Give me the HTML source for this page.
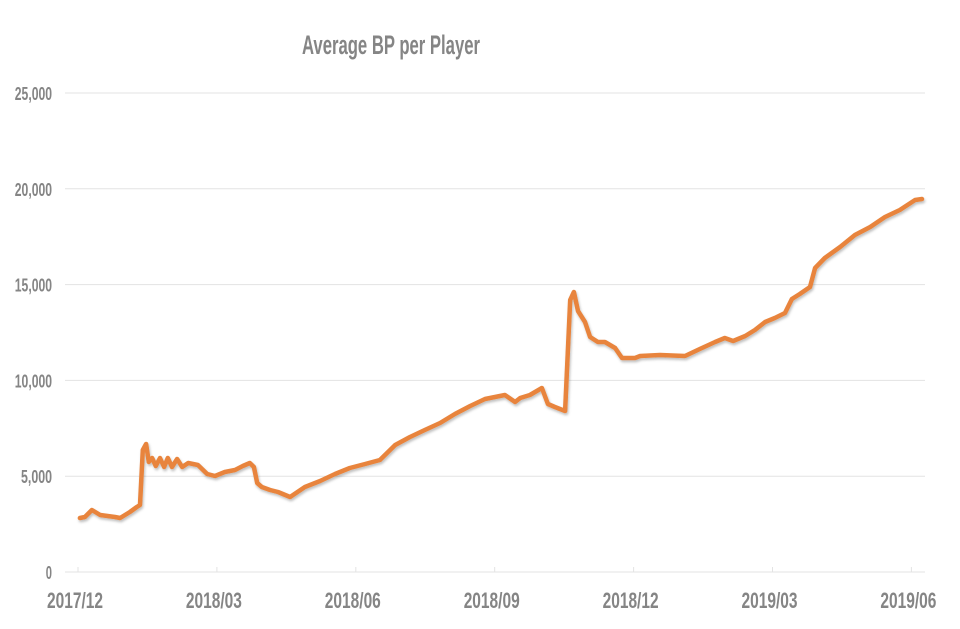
<!DOCTYPE html>
<html><head><meta charset="utf-8"><style>
body{margin:0;background:#fff;}
svg text{font-family:"Liberation Sans Narrow","Liberation Sans",sans-serif;fill:#858585;font-weight:bold;}
</style></head><body>
<svg width="960" height="624" viewBox="0 0 960 624">
<defs><filter id="sh" x="-5%" y="-5%" width="110%" height="110%"><feDropShadow dx="1" dy="2" stdDeviation="1.2" flood-color="#000" flood-opacity="0.25"/></filter></defs>
<text x="391" y="54" text-anchor="middle" font-size="27" textLength="178" lengthAdjust="spacingAndGlyphs">Average BP per Player</text>
<g id="grid"></g><g id="yl"></g><g id="xl"></g><g id="ln"></g>
</svg>
<script>
const yTicks=[0,5000,10000,15000,20000,25000];
const yTickLabels=["0","5,000","10,000","15,000","20,000","25,000"];
const xTickMonths=[0,3,6,9,12,15,18];
const xTickLabels=["2017/12","2018/03","2018/06","2018/09","2018/12","2019/03","2019/06"];
const months=[0.04,0.15,0.30,0.48,0.80,0.91,1.12,1.27,1.34,1.40,1.47,1.53,1.60,1.68,1.77,1.86,1.94,2.03,2.14,2.25,2.38,2.59,2.79,2.96,3.17,3.39,3.56,3.71,3.80,3.87,3.97,4.15,4.32,4.58,4.90,5.23,5.55,5.87,6.20,6.52,6.85,7.17,7.49,7.82,8.14,8.47,8.79,9.22,9.44,9.55,9.76,10.02,10.15,10.30,10.52,10.63,10.71,10.80,10.95,11.06,11.23,11.38,11.60,11.75,12.03,12.14,12.57,13.11,13.43,13.76,13.97,14.15,14.41,14.62,14.84,15.05,15.27,15.42,15.59,15.81,15.92,16.13,16.46,16.78,17.11,17.43,17.75,18.08,18.23];
const bpValues=[2818,2870,3236,2975,2870,2818,3131,3392,3497,6367,6680,5741,5950,5532,5950,5480,5950,5480,5897,5480,5689,5584,5115,5010,5219,5323,5532,5689,5480,4645,4436,4280,4175,3914,4436,4749,5115,5428,5637,5845,6628,7046,7411,7776,8246,8664,9029,9238,8872,9081,9238,9603,8768,8611,8403,14196,14613,13622,13048,12265,12004,12004,11691,11169,11169,11273,11325,11273,11638,12004,12212,12056,12317,12630,13048,13256,13517,14248,14509,14874,15866,16388,16962,17588,18006,18527,18893,19415,19467];
const X=m=>78+m*46.3, Y=v=>572-v/5000*95.8;
const NS="http://www.w3.org/2000/svg";
function mk(t,a,p){const e=document.createElementNS(NS,t);for(const k in a)e.setAttribute(k,a[k]);p.appendChild(e);return e;}
const g=document.getElementById('grid'),yl=document.getElementById('yl'),xl=document.getElementById('xl'),ln=document.getElementById('ln');
yTicks.forEach((v,i)=>{
 const l=mk('line',{x1:65,x2:925,y1:Y(v),y2:Y(v),stroke:'#e3e3e3','stroke-width':1},g);
 
 
 const s=yTickLabels[i];
 const t=mk('text',{x:52,y:Y(v)+7,'text-anchor':'end','font-size':18,textLength:(s.length*6.2).toFixed(1),lengthAdjust:'spacingAndGlyphs'},yl);
 t.textContent=s;
 
 
});
xTickMonths.forEach((m,i)=>{
 const tk=mk('line',{x1:X(m),x2:X(m),y1:Y(0),y2:Y(0)-5,stroke:'#e3e3e3'},g);
 
 
 const t=mk('text',{x:X(m)-3,y:608,'text-anchor':'middle','font-size':22,textLength:56,lengthAdjust:'spacingAndGlyphs'},xl);
 t.textContent=xTickLabels[i];
 
 
});
const d=months.map((m,i)=>(i?'L':'M')+X(m).toFixed(1)+','+Y(bpValues[i]).toFixed(1)).join('');
const p=mk('path',{d:d,fill:'none',stroke:'#e8843c','stroke-width':4.5,'stroke-linejoin':'round','stroke-linecap':'round',filter:'url(#sh)'},ln);


</script>
</body></html>
